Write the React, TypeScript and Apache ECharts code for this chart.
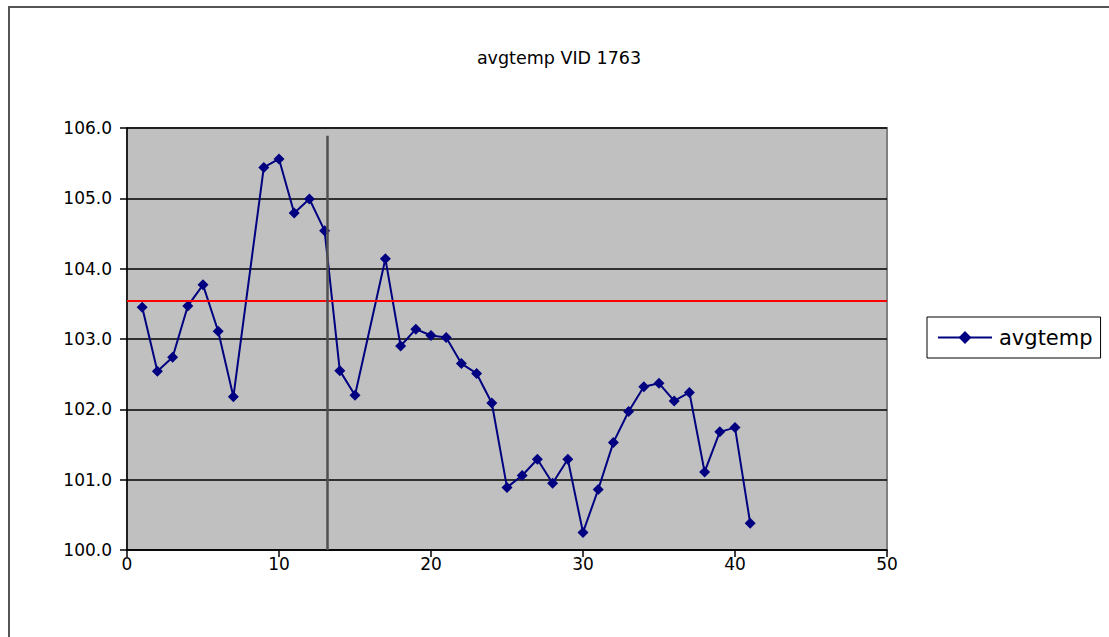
import React, { useEffect, useRef } from "react";
import * as echarts from "echarts";

const chartTitle = "avgtemp VID 1763";
const seriesName = "avgtemp";
const xValues = [1, 2, 3, 4, 5, 6, 7, 9, 10, 11, 12, 13, 14, 15, 17, 18, 19, 20, 21, 22, 23, 24, 25, 26, 27, 28, 29, 30, 31, 32, 33, 34, 35, 36, 37, 38, 39, 40, 41];
const yValues = [103.45, 102.54, 102.74, 103.47, 103.77, 103.11, 102.18, 105.44, 105.56, 104.79, 104.99, 104.54, 102.55, 102.2, 104.14, 102.9, 103.14, 103.05, 103.02, 102.65, 102.51, 102.09, 100.89, 101.06, 101.29, 100.95, 101.29, 100.25, 100.86, 101.53, 101.97, 102.32, 102.37, 102.12, 102.24, 101.11, 101.68, 101.74, 100.38];
const averageLine = 103.54;
const markerX = 13.15;
const markerTop = 105.89;
const xMin = 0, xMax = 50, xStep = 10;
const yMin = 100, yMax = 106, yStep = 1;

const FONT = "DejaVu Sans";

export default function App() {
  const ref = useRef<HTMLDivElement>(null);
  useEffect(() => {
    if (!ref.current) return;
    const chart = echarts.init(ref.current, undefined, { renderer: "svg" });
    const data = xValues.map((x, i) => [x, yValues[i]]);
    chart.setOption({
      animation: false,
      backgroundColor: "#ffffff",
      textStyle: { fontFamily: FONT },
      title: {
        text: chartTitle,
        left: 554,
        textAlign: "center",
        top: 44,
        textStyle: { fontFamily: FONT, fontSize: 17.5, fontWeight: "normal", color: "#000" },
      },
      legend: {
        left: 927,
        top: 317,
        orient: "vertical",
        backgroundColor: "#fff",
        borderColor: "#000",
        borderWidth: 1,
        padding: [10, 8, 10, 10],
        itemWidth: 54,
        itemHeight: 16,
        itemGap: 0,
        textStyle: { fontFamily: FONT, fontSize: 21, color: "#000", padding: [0, 0, 0, 2] },
        data: [seriesName],
      },
      grid: {
        left: 127,
        top: 128,
        width: 760,
        height: 422,
        show: true,
        backgroundColor: "#C0C0C0",
        borderColor: "#808080",
        borderWidth: 2,
      },
      xAxis: {
        type: "value",
        min: xMin,
        max: xMax,
        interval: xStep,
        axisLine: { show: true, onZero: false, lineStyle: { color: "#000", width: 1.5 } },
        axisTick: { show: true, inside: false, length: 7, lineStyle: { color: "#000", width: 1.5 } },
        axisLabel: { fontFamily: FONT, fontSize: 17, color: "#000", margin: 5 },
        splitLine: { show: false },
      },
      yAxis: {
        type: "value",
        min: yMin,
        max: yMax,
        interval: yStep,
        axisLine: { show: true, lineStyle: { color: "#000", width: 1.5 } },
        axisTick: { show: true, inside: false, length: 7, lineStyle: { color: "#000", width: 1.5 } },
        axisLabel: {
          fontFamily: FONT,
          fontSize: 17,
          color: "#000",
          margin: 15,
          formatter: (v: number) => v.toFixed(1),
        },
        splitLine: { show: true, lineStyle: { color: "#000", width: 1.5 } },
      },
      graphic: [
        {
          type: "rect",
          shape: { x: 9, y: 7, width: 1200, height: 700 },
          style: { fill: "none", stroke: "#555", lineWidth: 2 },
          silent: true,
          z: -10,
        },
      ],
      series: [
        {
          name: seriesName,
          type: "line",
          data,
          symbol: "diamond",
          symbolSize: 11,
          itemStyle: { color: "#000080" },
          lineStyle: { color: "#000080", width: 2 },
          markLine: {
            silent: true,
            symbol: ["none", "none"],
            label: { show: false },
            emphasis: { disabled: true },
            data: [
              { yAxis: averageLine, lineStyle: { color: "#FF0000", width: 2, type: "solid" } },
              [
                { coord: [markerX, markerTop], lineStyle: { color: "#505050", width: 2.5, type: "solid" } },
                { coord: [markerX, yMin] },
              ],
            ],
          },
        },
      ],
    });
    return () => chart.dispose();
  }, []);
  return (
    <div
      ref={ref}
      style={{ position: "fixed", left: 0, top: 0, width: 1109, height: 637 }}
    />
  );
}
